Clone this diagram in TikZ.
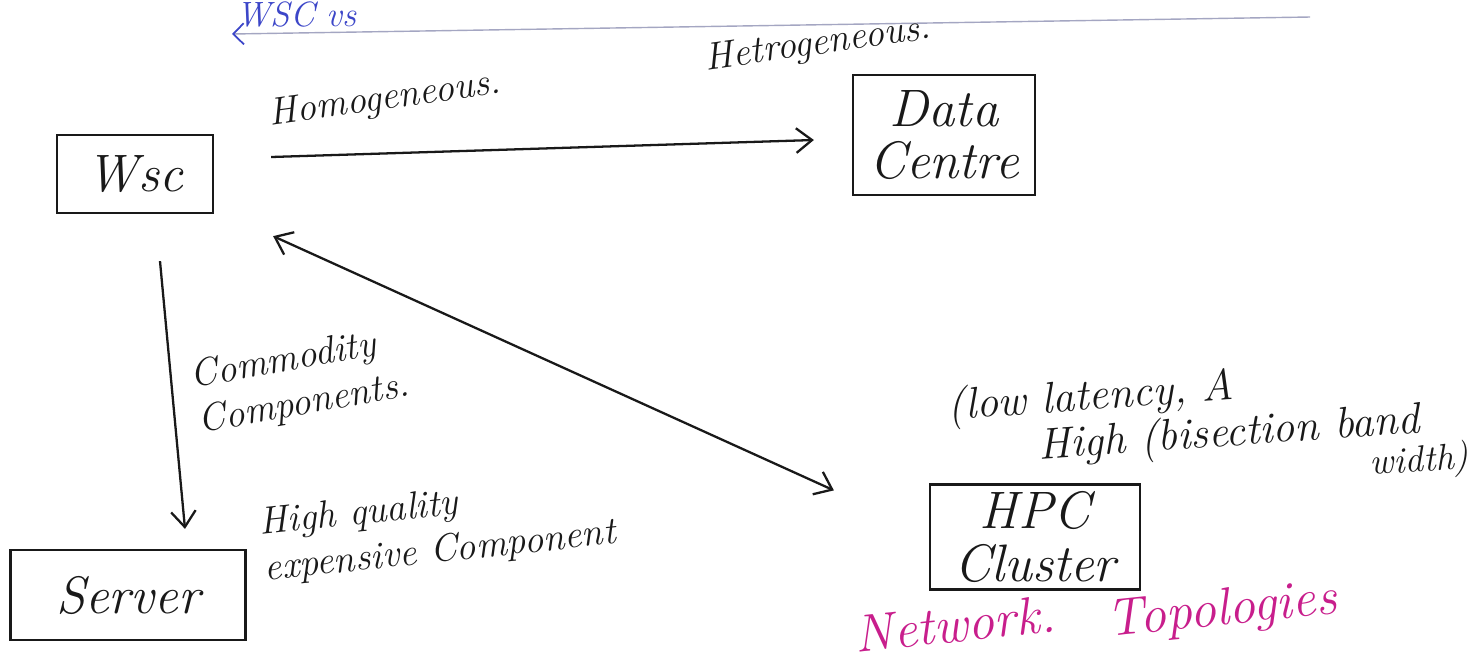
\documentclass[tikz,border=0pt]{standalone}
\usepackage{fontspec}
\usetikzlibrary{arrows.meta,calc}
\definecolor{penink}{RGB}{25,25,25}
\definecolor{pinkink}{RGB}{200,30,140}
\definecolor{blueink}{RGB}{60,70,200}
\begin{document}
\begin{tikzpicture}[x=0.02cm,y=-0.02cm,
  ink/.style={line width=1.3pt, draw=penink},
  box/.style={ink, rectangle, inner sep=0pt, font=\itshape\fontsize{30}{30}\selectfont, align=center, text=penink},
  hand/.style={font=\itshape\fontsize{22}{26}\selectfont, align=left, text=penink, inner sep=0pt},
  tip/.style={-{Straight Barb[length=9pt,width=14pt,line width=1.3pt]}},
  biway/.style={{Straight Barb[length=9pt,width=14pt,line width=1.3pt]}-{Straight Barb[length=9pt,width=14pt,line width=1.3pt]}}
]
\useasboundingbox (0,0) rectangle (1479,664);
\clip (0,0) rectangle (1479,664);

% heading and its underline
\node[font=\itshape\fontsize{20}{20}\selectfont, text=blueink, anchor=base west, inner sep=0pt] (title) at (236,26) {WSC vs};
\coordinate (ruleend) at (1310,17);
\draw[line width=0.8pt, draw=blueink!35!gray!60, -{Straight Barb[length=6pt,width=12pt,line width=1pt,color=blueink]}]
  (ruleend) -- ($(title.base west)+(-4,8)$);

% boxes
\node[box, minimum width=3.12cm, minimum height=1.56cm] (wsc) at (135,174) {Wsc};
\node[box, minimum width=3.64cm, minimum height=2.4cm] (dc) at (944,135) {Data\\Centre};
\node[box, minimum width=4.7cm, minimum height=1.8cm] (server) at (128,595) {Server};
\node[box, minimum width=4.2cm, minimum height=2.1cm] (hpc) at (1035,537) {HPC\\Cluster};

% connectors
\draw[ink, tip] ($(wsc.east)+(57,-17)$) -- ($(dc.west)+(-38,5)$);
\draw[ink, tip] ($(wsc.south)+(25,47)$) -- ($(server.north)+(57,-20)$);
\draw[ink, biway] ($(wsc.south east)+(59,22)$) -- ($(hpc.north west)+(-95,7)$);

% labels
\node[hand, rotate=8] (lhomo) at (385,100) {Homogeneous.};
\node[hand, rotate=8] (lhetero) at (818,45) {Hetrogeneous.};
\node[hand, rotate=10] (lcomm) at (300,382) {Commodity\\Components.};
\node[hand, rotate=6, anchor=west] (lhigh) at (262,548) {High quality\\expensive Component};
\node[hand, rotate=4, font=\itshape\fontsize{25}{22}\selectfont] (lhpc) at (1208,432)
  {(low latency, A\\\hspace*{2.0em}High (bisection band\\[-1pt]\hspace*{9.5em}{\fontsize{21}{21}\selectfont width)}};

% bottom note
\node[font=\itshape\fontsize{30}{30}\selectfont, text=pinkink, rotate=6] (net) at (955,624) {Network.};
\node[font=\itshape\fontsize{30}{30}\selectfont, text=pinkink, rotate=6] (topo) at (1222,612) {Topologies};
\end{tikzpicture}
\end{document}
